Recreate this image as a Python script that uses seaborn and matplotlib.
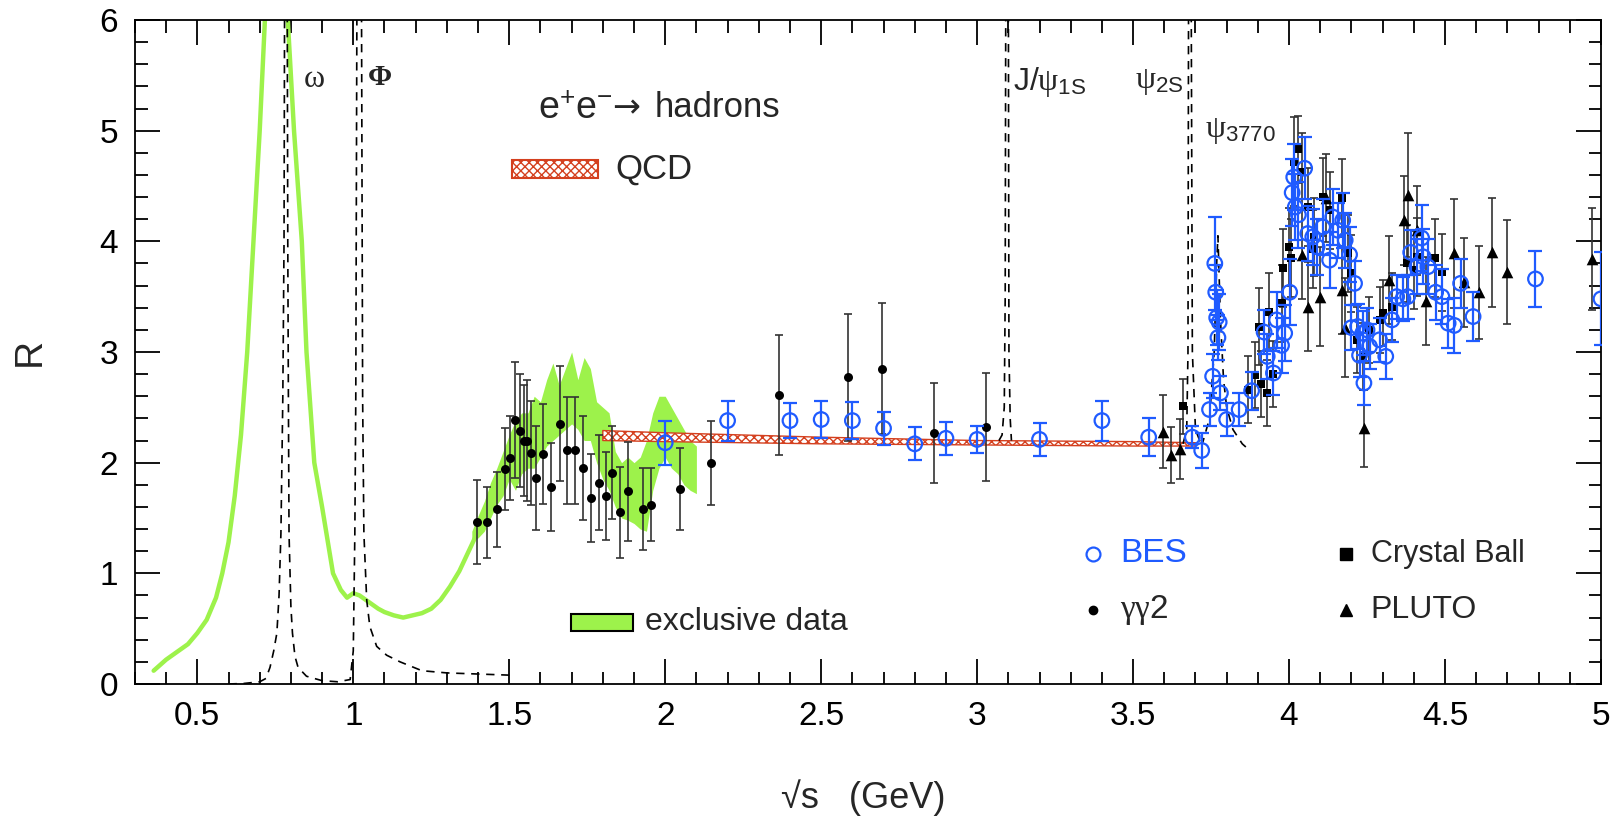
import numpy as np
import matplotlib
matplotlib.use("Agg")
import matplotlib.pyplot as plt
from matplotlib.patches import Rectangle
from matplotlib.ticker import MultipleLocator, FuncFormatter
from matplotlib.lines import Line2D
import seaborn as sns

# ---------------- data ----------------
# exclusive data: thin low-energy part (line) and broad band
excl_line_x = [0.36, 0.40, 0.44, 0.47, 0.50, 0.53, 0.56, 0.58, 0.60, 0.62, 0.64, 0.66, 0.68, 0.70,
               0.72, 0.74, 0.77, 0.79, 0.81, 0.835, 0.85, 0.875, 0.90, 0.935, 0.96, 0.98, 1.00,
               1.02, 1.04, 1.06, 1.08, 1.10, 1.13, 1.16, 1.19, 1.22, 1.25, 1.28, 1.31, 1.34, 1.37,
               1.40]
excl_line_r = [0.12, 0.22, 0.30, 0.36, 0.46, 0.58, 0.78, 1.00, 1.28, 1.70, 2.25, 3.00, 4.00, 5.00,
               6.20, 7.50, 8.50, 6.00, 5.00, 4.00, 3.00, 2.00, 1.60, 1.00, 0.85, 0.78, 0.82,
               0.80, 0.76, 0.72, 0.68, 0.65, 0.62, 0.60, 0.62, 0.64, 0.68, 0.76, 0.88, 1.02, 1.20,
               1.38]
excl_band_x = [1.38, 1.40, 1.42, 1.44, 1.46, 1.48, 1.50, 1.52, 1.54, 1.56, 1.58, 1.60, 1.62,
               1.64, 1.66, 1.68, 1.70, 1.72, 1.74, 1.76, 1.78, 1.80, 1.82, 1.84, 1.86, 1.88, 1.90,
               1.92, 1.94, 1.96, 1.98, 2.00, 2.02, 2.04, 2.06, 2.08, 2.10]
excl_band_hi = [1.38, 1.52, 1.65, 1.82, 1.95, 2.10, 2.25, 2.38, 2.45, 2.45, 2.60, 2.55, 2.75,
                2.90, 2.70, 2.85, 3.00, 2.75, 2.95, 2.85, 2.55, 2.50, 2.45, 2.10, 2.00, 2.05, 2.00,
                2.05, 2.20, 2.45, 2.60, 2.60, 2.50, 2.40, 2.30, 2.20, 2.15]
excl_band_lo = [1.30, 1.32, 1.38, 1.50, 1.62, 1.70, 1.85, 1.75, 1.90, 1.95, 1.95, 2.05, 2.15,
                2.20, 2.25, 2.30, 2.35, 2.30, 2.20, 2.20, 2.00, 1.85, 1.75, 1.60, 1.50, 1.48, 1.45,
                1.40, 1.38, 1.75, 1.95, 2.05, 1.95, 1.90, 1.80, 1.75, 1.72]

# QCD band
qcd_x = [1.8, 2.0, 2.5, 3.0, 3.5, 3.7]
qcd_lo = [2.20, 2.19, 2.17, 2.16, 2.15, 2.15]
qcd_hi = [2.29, 2.27, 2.23, 2.20, 2.19, 2.18]

# narrow resonances (dashed)
light_res_x = [0.60, 0.65, 0.70, 0.72, 0.733, 0.745, 0.755, 0.762, 0.768, 0.774, 0.778, 0.780,
               0.788, 0.790, 0.792, 0.794, 0.800, 0.805, 0.813, 0.823, 0.85, 0.90, 0.95, 0.99,
               1.000, 1.005, 1.008, 1.012, 1.026, 1.030, 1.034, 1.043, 1.053, 1.075, 1.107, 1.15,
               1.22, 1.30, 1.40, 1.50]
light_res_r = [0.0, 0.005, 0.02, 0.05, 0.15, 0.30, 0.46, 0.80, 1.36, 2.57, 4.0, 6.5,
               6.5, 4.0, 2.57, 1.36, 0.70, 0.46, 0.25, 0.15, 0.07, 0.03, 0.02, 0.04,
               0.30, 1.36, 2.57, 6.5, 6.5, 2.57, 1.36, 0.76, 0.52, 0.34, 0.26, 0.20,
               0.12, 0.10, 0.09, 0.08]
jpsi_x = [3.07, 3.08, 3.087, 3.09, 3.092, 3.100, 3.102, 3.106, 3.11]
jpsi_r = [2.20, 2.25, 2.50, 3.50, 6.5, 6.5, 3.0, 2.4, 2.2]
psi2s_x = [3.66, 3.672, 3.676, 3.678, 3.686, 3.69, 3.70, 3.72]
psi2s_r = [2.17, 2.30, 3.0, 6.5, 6.5, 3.0, 2.3, 2.15]
psi3770_x = [3.72, 3.745, 3.76, 3.768, 3.772, 3.78, 3.79, 3.80, 3.82, 3.85, 3.87]
psi3770_r = [2.15, 2.40, 3.00, 3.80, 4.05, 3.30, 2.75, 2.50, 2.30, 2.17, 2.12]

# BES
bes_x = [2.00, 2.20, 2.40, 2.50, 2.60, 2.70, 2.80, 2.90, 3.00, 3.20, 3.40, 3.55, 3.69, 3.72,
         3.745, 3.755, 3.762, 3.765, 3.768, 3.772, 3.776, 3.78, 3.80, 3.84, 3.88, 3.92, 3.93,
         3.95, 3.96, 3.976, 3.986, 4.002, 4.01, 4.015, 4.02, 4.03, 4.05, 4.06, 4.076, 4.09,
         4.108, 4.13, 4.14, 4.156, 4.172, 4.18, 4.194, 4.21, 4.20, 4.22, 4.226, 4.236, 4.24,
         4.25, 4.258, 4.29, 4.31, 4.33, 4.345, 4.365, 4.38, 4.39, 4.41, 4.425, 4.43, 4.445,
         4.47, 4.49, 4.51, 4.53, 4.55, 4.59, 4.79, 5.00]
bes_r = [2.18, 2.38, 2.38, 2.39, 2.38, 2.31, 2.17, 2.22, 2.21, 2.21, 2.38, 2.23, 2.23, 2.11,
         2.48, 2.78, 3.80, 3.54, 3.31, 3.13, 3.27, 2.63, 2.39, 2.48, 2.65, 3.18, 2.96,
         2.81, 3.29, 3.06, 3.17, 3.54, 4.44, 4.58, 4.31, 4.24, 4.66, 4.07, 4.04, 3.95,
         4.13, 3.83, 4.22, 4.10, 4.19, 4.01, 3.88, 3.62, 3.22, 3.23, 2.97, 3.17, 2.72,
         3.20, 3.05, 3.11, 2.96, 3.29, 3.50, 3.48, 3.50, 3.90, 3.77, 4.03, 3.86, 3.77,
         3.54, 3.50, 3.26, 3.24, 3.62, 3.32, 3.66, 3.48]
bes_err = [0.20, 0.18, 0.16, 0.17, 0.17, 0.15, 0.15, 0.15, 0.12, 0.15, 0.18, 0.17, 0.10, 0.16,
           0.15, 0.20, 0.42, 0.25, 0.25, 0.20, 0.25, 0.15, 0.15, 0.15, 0.17, 0.20, 0.20,
           0.20, 0.25, 0.25, 0.25, 0.30, 0.30, 0.30, 0.30, 0.30, 0.28, 0.25, 0.25, 0.25,
           0.25, 0.25, 0.25, 0.25, 0.25, 0.25, 0.25, 0.20, 0.20, 0.20, 0.20, 0.20, 0.20,
           0.20, 0.20, 0.20, 0.20, 0.20, 0.20, 0.20, 0.20, 0.20, 0.25, 0.30, 0.25, 0.25,
           0.25, 0.25, 0.22, 0.25, 0.22, 0.22, 0.25, 0.42]

# Crystal Ball
cb_x = [3.66, 3.87, 3.89, 3.905, 3.91, 3.93, 3.935, 3.95, 3.976, 3.98, 4.00, 4.007, 4.016,
        4.03, 4.04, 4.06, 4.076, 4.08, 4.108, 4.13, 4.17, 4.19, 4.20, 4.217, 4.236, 4.257,
        4.29, 4.30, 4.33, 4.377, 4.40, 4.41, 4.467, 4.49]
cb_r = [2.51, 2.66, 2.79, 3.23, 2.71, 2.63, 3.36, 2.80, 3.44, 3.76, 3.95, 3.85, 4.72,
        4.83, 4.63, 4.31, 3.93, 4.04, 4.40, 4.28, 4.39, 3.89, 3.71, 3.11, 2.96, 3.20,
        3.29, 3.35, 3.41, 3.80, 3.74, 3.86, 3.85, 3.72]
cb_err = [0.25, 0.30, 0.30, 0.35, 0.30, 0.30, 0.35, 0.30, 0.35, 0.35, 0.35, 0.35, 0.40,
          0.30, 0.35, 0.35, 0.35, 0.35, 0.35, 0.35, 0.35, 0.35, 0.35, 0.30, 0.30, 0.30,
          0.30, 0.30, 0.30, 0.35, 0.35, 0.35, 0.35, 0.35]

# PLUTO
pluto_x = [3.595, 3.62, 3.65, 4.04, 4.06, 4.10, 4.12, 4.17, 4.18, 4.24, 4.32, 4.37, 4.38,
           4.41, 4.44, 4.53, 4.56, 4.61, 4.65, 4.70, 4.97]
pluto_r = [2.28, 2.07, 2.12, 3.88, 3.41, 3.50, 4.39, 3.56, 3.22, 2.31, 3.65, 4.19, 4.42,
           4.10, 3.46, 3.89, 3.63, 3.54, 3.90, 3.72, 3.84]
pluto_err = [0.33, 0.25, 0.27, 0.40, 0.40, 0.45, 0.40, 0.40, 0.45, 0.35, 0.40, 0.40, 0.56,
             0.40, 0.40, 0.49, 0.40, 0.42, 0.49, 0.47, 0.46]

# gamma gamma 2
gg2_x = [1.397, 1.43, 1.46, 1.488, 1.503, 1.52, 1.535, 1.546, 1.558, 1.571, 1.585, 1.607,
         1.635, 1.662, 1.685, 1.71, 1.735, 1.762, 1.787, 1.81, 1.83, 1.855, 1.88, 1.928,
         1.956, 2.047, 2.146, 2.365, 2.586, 2.695, 2.863, 3.03]
gg2_r = [1.46, 1.46, 1.58, 1.94, 2.04, 2.385, 2.29, 2.20, 2.20, 2.09, 1.86, 2.08,
         1.78, 2.35, 2.11, 2.11, 1.95, 1.68, 1.82, 1.70, 1.91, 1.55, 1.74, 1.58,
         1.62, 1.76, 2.00, 2.61, 2.77, 2.85, 2.27, 2.32]
gg2_err = [0.38, 0.32, 0.34, 0.37, 0.38, 0.52, 0.51, 0.50, 0.55, 0.47, 0.47, 0.45,
           0.40, 0.52, 0.48, 0.48, 0.47, 0.40, 0.43, 0.40, 0.42, 0.41, 0.45, 0.37,
           0.33, 0.37, 0.38, 0.54, 0.57, 0.59, 0.45, 0.49]

# ---------------- style ----------------
GREEN = "#9df24b"
RED = "#d4401f"
BLUE = "#1f5bff"

sns.set_theme(style="ticks")
plt.rcParams["font.family"] = ["Liberation Sans", "DejaVu Sans"]
plt.rcParams["mathtext.fontset"] = "custom"
plt.rcParams["mathtext.rm"] = "Liberation Sans"
plt.rcParams["mathtext.it"] = "Liberation Serif"
plt.rcParams["mathtext.bf"] = "Liberation Sans:bold"
plt.rcParams["hatch.linewidth"] = 1.0

fig = plt.figure(figsize=(16.16, 8.22), dpi=100)
ax = fig.add_axes([0.0835, 0.1679, 0.9072, 0.8078])
ax.set_facecolor("white")

# exclusive data
sns.lineplot(x=excl_line_x, y=excl_line_r, sort=False, estimator=None, color=GREEN,
             lw=3.2, ax=ax, zorder=1)
ax.fill_between(excl_band_x, excl_band_lo, excl_band_hi, color=GREEN, lw=0, zorder=1)

# QCD band
ax.fill_between(qcd_x, qcd_lo, qcd_hi, facecolor="white", edgecolor=RED, hatch="xxxx",
                lw=1.0, zorder=2)

# resonances
for rx, ry in [(light_res_x, light_res_r), (jpsi_x, jpsi_r), (psi2s_x, psi2s_r),
               (psi3770_x, psi3770_r)]:
    ax.plot(rx, ry, color="black", lw=1.2, ls=(0, (5, 4)), zorder=3)

# error bars
for ex, ey, ee in [(gg2_x, gg2_r, gg2_err), (cb_x, cb_r, cb_err), (pluto_x, pluto_r, pluto_err)]:
    ax.errorbar(ex, ey, yerr=ee, fmt="none", ecolor="#333333", elinewidth=1.2,
                capsize=3, capthick=1.2, zorder=3.5)
ax.errorbar(bes_x, bes_r, yerr=bes_err, fmt="none", ecolor=BLUE, elinewidth=1.6,
            capsize=5, capthick=1.6, zorder=5)

# markers
sns.scatterplot(x=gg2_x, y=gg2_r, marker="o", s=42, color="black", edgecolor="black",
                linewidth=0, ax=ax, zorder=4)
sns.scatterplot(x=cb_x, y=cb_r, marker="s", s=34, color="black", edgecolor="black",
                linewidth=0, ax=ax, zorder=4)
sns.scatterplot(x=pluto_x, y=pluto_r, marker="^", s=70, color="black", edgecolor="black",
                linewidth=0, ax=ax, zorder=4)
sns.scatterplot(x=bes_x, y=bes_r, marker="o", s=110, color=BLUE, ax=ax, zorder=6)
coll = ax.collections[-1]
coll.set_facecolor("none")
coll.set_edgecolor(BLUE)
coll.set_linewidth(1.6)

# axes
ax.set_xlim(0.3, 5.0)
ax.set_ylim(0, 6)
ax.xaxis.set_major_locator(MultipleLocator(0.5))
ax.xaxis.set_minor_locator(MultipleLocator(0.1))
ax.yaxis.set_major_locator(MultipleLocator(1))
ax.yaxis.set_minor_locator(MultipleLocator(0.2))
ax.xaxis.set_major_formatter(FuncFormatter(lambda v, p: f"{v:g}"))
ax.tick_params(which="both", direction="in", top=True, right=True, width=1.3,
               color="black", labelsize=24, labelcolor="black", pad=12)
ax.tick_params(which="major", length=18)
ax.tick_params(which="minor", length=9)
for sp in ax.spines.values():
    sp.set_linewidth(1.3)
    sp.set_color("black")
    sp.set_visible(True)

fig.text(30 / 1616, 1 - 352 / 822, "R", rotation=90, ha="center", va="center", size=28)
fig.text(863 / 1616, 1 - 798 / 822, "√s   (GeV)", ha="center", va="center", size=26)

# resonance labels
ax.text(0.842, 5.46, "ω", family="Liberation Serif", size=23, ha="left", va="center")
ax.text(1.047, 5.48, "Φ", family="Liberation Serif", size=21, weight="bold",
        ha="left", va="center")
ax.text(3.114, 5.44, r"J/$\psi_{\mathrm{1S}}$", size=23, ha="left", va="center")
ax.text(3.505, 5.44, r"$\psi_{\mathrm{2S}}$", size=23, ha="left", va="center")
ax.text(3.73, 5.0, r"$\psi_{\mathrm{3770}}$", size=23, ha="left", va="center")

# titles / legends
T = ax.transAxes
ax.text(0.275, 0.8675, r"e$^{+}$e$^{-}$", transform=T, size=27, ha="left", va="center")
ax.text(0.3255, 0.8675, "→", transform=T, size=24, family="DejaVu Sans",
        ha="left", va="center")
ax.text(0.3547, 0.8675, "hadrons", transform=T, size=25, ha="left", va="center")
ax.add_patch(Rectangle((0.257, 0.762), 0.059, 0.027, transform=T, facecolor="white",
                       edgecolor=RED, hatch="xxxx", lw=1.5, zorder=7))
ax.text(0.328, 0.7756, "QCD", transform=T, size=25, ha="left", va="center")

ax.add_patch(Rectangle((0.2974, 0.0798), 0.0423, 0.0262, transform=T, facecolor=GREEN,
                       edgecolor="black", lw=1.5, zorder=7))
ax.text(0.348, 0.0934, "exclusive data", transform=T, size=23, ha="left", va="center")

ax.add_line(Line2D([0.6535], [0.1958], transform=T, marker="o", ms=10, mfc="none",
                   mec=BLUE, mew=1.6, ls=""))
ax.text(0.672, 0.1958, "BES", transform=T, size=24, color=BLUE, ha="left", va="center")
ax.add_line(Line2D([0.6535], [0.1114], transform=T, marker="o", ms=6, mfc="black",
                   mec="black", ls=""))
ax.text(0.672, 0.1114, r"$\gamma\gamma$2", transform=T, size=24, ha="left", va="center")
ax.add_line(Line2D([0.826], [0.1958], transform=T, marker="s", ms=8, mfc="black",
                   mec="black", ls=""))
ax.text(0.843, 0.1958, "Crystal Ball", transform=T, size=22, ha="left", va="center")
ax.add_line(Line2D([0.826], [0.1114], transform=T, marker="^", ms=9, mfc="black",
                   mec="black", ls=""))
ax.text(0.843, 0.1114, "PLUTO", transform=T, size=23, ha="left", va="center")

fig.savefig("out.png", dpi=100, facecolor="white")
